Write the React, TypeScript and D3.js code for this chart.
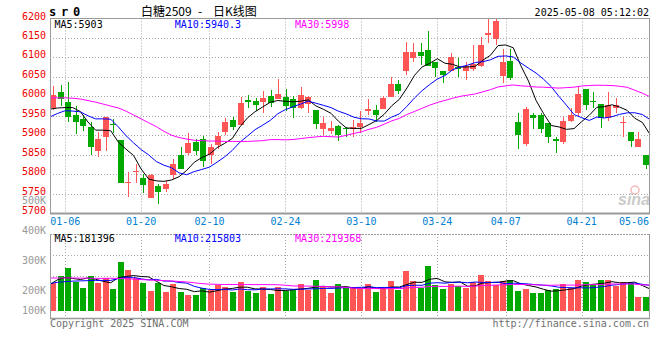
import React from "react";
import * as d3 from "d3";

// ---------- data ----------
const dates = [
  "01-02","01-03","01-06","01-07","01-08","01-09","01-10","01-13","01-14","01-15",
  "01-16","01-17","01-20","01-21","01-22","01-23","01-24","01-27","02-05","02-06",
  "02-07","02-10","02-11","02-12","02-13","02-14","02-17","02-18","02-19","02-20",
  "02-21","02-24","02-25","02-26","02-27","02-28","03-03","03-04","03-05","03-06",
  "03-07","03-10","03-11","03-12","03-13","03-14","03-17","03-18","03-19","03-20",
  "03-21","03-24","03-25","03-26","03-27","03-28","03-31","04-01","04-02","04-03",
  "04-07","04-08","04-09","04-10","04-11","04-14","04-15","04-16","04-17","04-18",
  "04-21","04-22","04-23","04-24","04-25","04-28","04-29","04-30","05-06","05-07",
];
const opens = [
  5969,6011,5985,5951,5941,5920,5860,5895,5929,5888,
  5778,5805,5789,5739,5769,5762,5798,5850,5855,5882,
  5890,5848,5876,5908,5939,5927,5990,5987,5985,6002,
  5992,5998,5993,5970,5980,5965,5917,5912,5924,5918,
  5915,5920,5963,5965,5968,5997,6032,6066,6098,6114,
  6119,6087,6066,6064,6076,6066,6071,6078,6157,6147,
  6051,6092,5934,5877,5953,5951,5931,5889,5883,5936,
  5958,6020,5989,5980,5944,5970,5932,5908,5869,5850,
];
const highs = [
  6027,6028,6037,5975,5951,5934,5908,5948,5942,5888,
  5806,5826,5799,5800,5775,5783,5838,5870,5906,5891,
  5898,5877,5908,5943,5948,5999,6004,5995,6013,6016,
  6044,6019,6000,6023,6000,5966,5948,5937,5926,5921,
  5939,5963,5994,5977,6001,6050,6042,6140,6137,6137,
  6167,6087,6066,6111,6098,6088,6132,6153,6200,6198,
  6121,6121,5956,5972,5956,5958,5931,5896,5948,5970,
  6027,6020,6011,5980,6011,5996,5948,5908,5908,5850,
];
const lows = [
  5965,5975,5933,5903,5911,5848,5845,5859,5906,5778,
  5740,5778,5751,5739,5722,5754,5787,5814,5850,5850,
  5819,5826,5865,5901,5913,5925,5970,5963,5958,5972,
  5992,5963,5945,5968,5958,5917,5901,5903,5884,5895,
  5895,5905,5953,5934,5968,5997,6006,6054,6089,6080,
  6078,6050,6033,6064,6050,6042,6066,6076,6136,6131,
  6034,6042,5865,5872,5915,5906,5881,5855,5877,5933,
  5949,5965,5970,5919,5937,5956,5895,5870,5869,5812,
];
const closes = [
  6004,5994,5946,5935,5924,5870,5890,5946,5927,5778,
  5780,5809,5771,5798,5755,5774,5826,5814,5879,5860,
  5834,5869,5898,5934,5922,5983,5986,5977,5995,5982,
  6006,5975,5971,6003,5999,5929,5931,5919,5900,5915,
  5922,5932,5968,5951,5996,6032,6014,6114,6114,6104,
  6078,6073,6056,6100,6069,6079,6083,6133,6164,6193,
  6087,6047,5901,5968,5943,5917,5895,5884,5936,5953,
  6006,5977,5987,5944,5977,5977,5934,5886,5890,5823,
];
const volumes = [
  232000,293000,357000,246000,190000,296000,238000,274000,182000,408000,
  341000,280000,232000,165000,232000,157000,229000,157000,134000,134000,
  190000,173000,218000,201000,162000,246000,167000,148000,198000,140000,
  204000,167000,179000,223000,176000,257000,198000,150000,223000,193000,
  198000,182000,223000,157000,193000,249000,179000,332000,249000,190000,
  377000,218000,184000,229000,207000,196000,240000,299000,249000,215000,
  249000,257000,165000,182000,151000,151000,179000,187000,223000,196000,
  257000,240000,215000,257000,257000,209000,246000,238000,115000,115000,
];
// moving-average values before enough bars are on screen
const ma5Head = [5967, 5970, 5971, 5971];
const ma10Head = [5947, 5956, 5963, 5962, 5960, 5950, 5942, 5942, 5941];
const ma30Head = [
  5996,5996,5996,5995,5993,5989,5985,5980,5975,5970,
  5962,5952,5942,5932,5922,5910,5900,5894,5890,5887,
  5886,5885,5885,5884,5884,5884,5884,5885,5886,
];
const volMa5Head = [222000, 262000, 280000, 272000];
const volMa10Head = [230000, 240000, 246000, 250000, 252000, 254000, 256000, 256000, 256000];
const volMa30Head = [
  276000,276000,277000,276000,275000,275000,273000,273000,274000,272000,
  270000,267000,263000,260000,257000,254000,251000,247000,243000,236000,
  229000,225000,223000,222000,222000,221000,221000,221000,221000,
];

const priceTicks = [6200, 6150, 6100, 6050, 6000, 5950, 5900, 5850, 5800, 5750, 5700];
const volTickValues = [500000, 400000, 300000, 200000, 100000];
const volTickLabels = ["500K", "400K", "300K", "200K", "100K"];
const labelDates = ["01-06", "01-20", "02-10", "02-24", "03-10", "03-24", "04-07", "04-21", "05-06"];
const maPeriods = [5, 10, 30];
const maNames = ["MA5", "MA10", "MA30"];
const priceLegendValues = ["5903", "5940.3", "5998"];
const volLegendValues = ["181396", "215803", "219368"];
const symbol = "sr0";
const titleName = "白糖2509";
const titleKind = "日K线图";
const timestamp = "2025-05-08 05:12:02";

// ---------- styles ----------
const RED = "#ff5555";
const GREEN = "#00a800";
const MA_COLORS = ["#000000", "#0000ff", "#ff00ff"];
const GRID = "#a8a8a8";
const BORDER = "#9a9a9a";
const MONO = "'DejaVu Sans Mono', 'Liberation Mono', monospace";

function movingAvg(values: number[], period: number, head: number[]) {
  return values.map((_, i) => {
    if (i < period - 1) return head[i];
    return d3.mean(values.slice(i - period + 1, i + 1)) as number;
  });
}

export default function App() {
  const W = 660, H = 360;
  const PL = 50, PR = 650;
  const mainTop = 18.5, mainBottom = 213;
  const volTop = 234, volBottom = 318, volBase = 311;
  const n = dates.length;

  const xCandle = d3.scaleLinear().domain([0, n]).range([PL, PR]);
  const xLine = d3.scaleLinear().domain([0, n - 1]).range([PL, PR]);
  const yPrice = d3.scaleLinear().domain([5700, 6200]).range([mainBottom, mainTop]);
  const yVol = d3.scaleLinear().domain([0, 400000]).range([volBase, volBase - 47.8]);
  const yVolLabel = d3
    .scaleLinear()
    .domain([100000, 200000, 300000, 400000, 500000])
    .range([314.2, 294.2, 264.2, 233.6, 204.2]);

  const candleW = 6;
  const priceMAs = [
    movingAvg(closes, maPeriods[0], ma5Head),
    movingAvg(closes, maPeriods[1], ma10Head),
    movingAvg(closes, maPeriods[2], ma30Head),
  ];
  const volMAs = [
    movingAvg(volumes, maPeriods[0], volMa5Head),
    movingAvg(volumes, maPeriods[1], volMa10Head),
    movingAvg(volumes, maPeriods[2], volMa30Head),
  ];
  const priceLine = d3.line<number>().x((_, i) => xLine(i)).y((d) => yPrice(d));
  const volLine = d3.line<number>().x((_, i) => xLine(i)).y((d) => yVol(d));

  const labelIdx = labelDates.map((d) => dates.indexOf(d));
  const gridIdx = labelIdx.slice(0, labelIdx.length - 1);
  const crisp = (v: number) => Math.round(v) + 0.5;

  const volGridYs = [1, 2, 3].map((k) => crisp(volTop + ((volBottom - volTop) * k) / 4));

  return (
    <svg width={W} height={H} style={{ position: "absolute", left: 0, top: 0, background: "#fff" }}>
      <rect x={0} y={0} width={W} height={H} fill="#fff" />
      {/* header */}
      <text x="49 61 73" y={15.5} fontFamily={MONO} fontWeight="bold" fontSize={12} fill="#000">
        {symbol}
      </text>
      <text x={141} y={16} fontFamily="'Noto Sans CJK SC', sans-serif" fontSize={12} fill="#000">
        {titleName}
      </text>
      <text x={200} y={16} textAnchor="middle" fontFamily="'Noto Sans CJK SC', sans-serif" fontSize={12} fill="#000">
        -
      </text>
      <text x={213} y={16} fontFamily="'Noto Sans CJK SC', sans-serif" fontSize={12} fill="#000">
        {titleKind}
      </text>
      <text x={649} y={15.5} textAnchor="end" fontFamily={MONO} fontSize={10} fill="#000">
        {timestamp}
      </text>

      {/* main panel grid */}
      {priceTicks.slice(1, priceTicks.length - 1).map((t) => (
        <line key={"pg" + t} x1={PL} x2={PR} y1={crisp(yPrice(t))} y2={crisp(yPrice(t))}
          stroke={GRID} strokeDasharray="1 2" />
      ))}
      {gridIdx.map((i) => (
        <line key={"vg" + i} x1={crisp(xLine(i))} x2={crisp(xLine(i))} y1={mainTop} y2={mainBottom}
          stroke={GRID} strokeDasharray="1 2" />
      ))}
      {/* volume panel grid */}
      {volGridYs.map((y, k) => (
        <line key={"vy" + k} x1={PL} x2={PR} y1={y} y2={y} stroke={GRID} strokeDasharray="1 2" />
      ))}
      {gridIdx.map((i) => (
        <line key={"vv" + i} x1={crisp(xLine(i))} x2={crisp(xLine(i))} y1={volTop} y2={volBottom}
          stroke={GRID} strokeDasharray="1 2" />
      ))}

      {/* sina watermark */}
      <g opacity={0.55}>
        <circle cx={635} cy={190} r={4} fill="none" stroke="#f08080" strokeWidth={1.5} />
        <text x={650} y={205} textAnchor="end" fontFamily="'Liberation Sans', sans-serif"
          fontWeight="bold" fontStyle="italic" fontSize={16} fill="#a0a0a0">sina</text>
      </g>

      {/* candles */}
      {closes.map((c, i) => {
        const o = opens[i];
        const left = Math.round(xCandle(i));
        const color = c >= o ? RED : GREEN;
        const yTop = Math.round(yPrice(Math.max(o, c)));
        const yBot = Math.round(yPrice(Math.min(o, c)));
        const yHi = Math.round(yPrice(highs[i]));
        const yLo = Math.round(yPrice(lows[i]));
        return (
          <g key={"c" + i}>
            <rect x={left + 3} y={yHi} width={1} height={Math.max(1, yLo - yHi)} fill={color} />
            <rect x={left} y={yTop} width={candleW} height={Math.max(1, yBot - yTop)} fill={color} />
          </g>
        );
      })}
      {/* price MAs */}
      {priceMAs.map((ma, k) => (
        <path key={"pma" + k} d={priceLine(ma) || ""} fill="none" stroke={MA_COLORS[k]} strokeWidth={1} />
      ))}

      {/* volume bars */}
      {volumes.map((v, i) => {
        const left = Math.round(xCandle(i));
        const y = Math.round(yVol(v));
        return (
          <rect key={"v" + i} x={left} y={y} width={candleW} height={volBase - y}
            fill={closes[i] >= opens[i] ? RED : GREEN} />
        );
      })}
      {volMAs.map((ma, k) => (
        <path key={"vma" + k} d={volLine(ma) || ""} fill="none" stroke={MA_COLORS[k]} strokeWidth={1} />
      ))}

      {/* borders */}
      <line x1={PL} x2={PR} y1={mainTop} y2={mainTop} stroke={BORDER} />
      <line x1={PL + 0.5} x2={PL + 0.5} y1={mainTop} y2={mainBottom + 1} stroke={BORDER} />
      <line x1={PR - 0.5} x2={PR - 0.5} y1={mainTop} y2={mainBottom + 1} stroke={BORDER} />
      <line x1={PL} x2={PR} y1={mainBottom + 0.5} y2={mainBottom + 0.5} stroke={BORDER} strokeWidth={2} />
      <line x1={PL} x2={PR} y1={volTop + 0.5} y2={volTop + 0.5} stroke={BORDER} strokeDasharray="2 1" />
      <line x1={PL + 0.5} x2={PL + 0.5} y1={volTop} y2={volBottom + 1} stroke={BORDER} />
      <line x1={PR - 0.5} x2={PR - 0.5} y1={volTop} y2={volBottom + 1} stroke={BORDER} />
      <line x1={PL} x2={PR} y1={volBottom + 0.5} y2={volBottom + 0.5} stroke={BORDER} strokeWidth={1.5} />

      {/* volume axis labels */}
      {volTickValues.map((v, k) => (
        <text key={"vl" + v} x={46} y={yVolLabel(v)} textAnchor="end" fontFamily={MONO} fontSize={10} fill="#999">
          {volTickLabels[k]}
        </text>
      ))}
      {/* price axis labels */}
      {priceTicks.map((t) => (
        <text key={"pl" + t} x={46} y={yPrice(t) + 1} textAnchor="end" fontFamily={MONO} fontSize={10} fill="#ee0000">
          {t}
        </text>
      ))}

      {/* date labels */}
      {labelIdx.map((i, k) => {
        const last = k === labelIdx.length - 1;
        return (
          <text key={"d" + i} x={last ? 649 : xLine(i)} y={225} textAnchor={last ? "end" : "middle"}
            fontFamily={MONO} fontSize={10} fill="#0080d0">
            {dates[i]}
          </text>
        );
      })}

      {/* legends */}
      {maNames.map((nm, k) => (
        <text key={"lg" + k} x={54.5 + 120.3 * k} y={27.5} fontFamily={MONO} fontSize={10} fill={MA_COLORS[k]}>
          {nm + ":" + priceLegendValues[k]}
        </text>
      ))}
      {maNames.map((nm, k) => (
        <text key={"vlg" + k} x={54.5 + 120.3 * k} y={242.3} fontFamily={MONO} fontSize={10} fill={MA_COLORS[k]}>
          {nm + ":" + volLegendValues[k]}
        </text>
      ))}

      {/* footer */}
      <text x={50} y={327} fontFamily={MONO} fontSize={10} fill="#707070">Copyright 2025 SINA.COM</text>
      <text x={649} y={327} textAnchor="end" fontFamily={MONO} fontSize={10} fill="#707070">
        http://finance.sina.com.cn
      </text>
    </svg>
  );
}
